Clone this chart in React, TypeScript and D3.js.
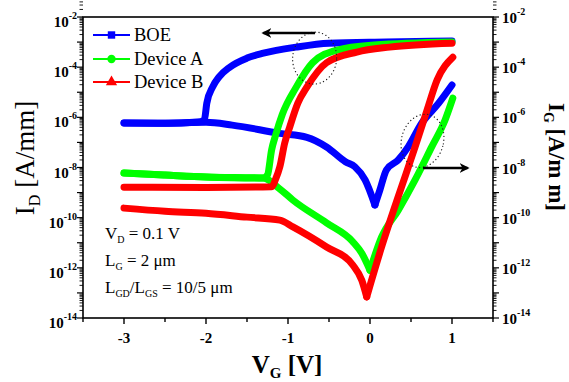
import * as d3 from "d3";

// gate voltage [V] vs current [A/mm]
const BOE_ID: [number, number][] = [
  [-3.0, 6.0e-7], [-2.5, 5.8e-7], [-2.1, 6.5e-7], [-2.02, 8e-7], [-1.99, 3.7e-6],
  [-1.92, 1.6e-5], [-1.84, 4.1e-5], [-1.71, 1.0e-4], [-1.5, 2.3e-4], [-1.3, 3.6e-4],
  [-0.9, 6.3e-4], [-0.5, 9.0e-4], [0.2, 1.0e-3], [1.0, 1.1e-3],
];
const BOE_IG: [number, number][] = [
  [-3.0, 6.0e-7], [-2.5, 5.8e-7], [-2.0, 6.3e-7], [-1.68, 4.9e-7], [-1.1, 2.3e-7],
  [-0.77, 1.6e-7], [-0.53, 6.6e-8], [-0.3, 1.7e-8], [-0.185, 1.07e-8], [-0.06, 3.2e-9],
  [0.06, 3.2e-10], [0.12, 1.26e-9], [0.2, 8e-9], [0.345, 2e-8], [0.468, 6.8e-8],
  [0.63, 5.8e-7], [0.835, 3.6e-6], [1.0, 1.95e-5],
];
const DEVA_ID: [number, number][] = [
  [-3.0, 6e-9], [-2.5, 5e-9], [-2.0, 4.2e-9], [-1.3, 3.8e-9], [-1.25, 5e-9],
  [-1.2, 5e-8], [-1.15, 2.0e-7], [-1.07, 1.3e-6], [-0.9, 1.6e-5], [-0.7, 1.5e-4],
  [-0.4, 4.8e-4], [0.05, 7.6e-4], [1.0, 1.0e-3],
];
const DEVA_IG: [number, number][] = [
  [-3.0, 6e-9], [-2.5, 5e-9], [-2.0, 4.2e-9], [-1.3, 3.8e-9], [-1.1, 1.4e-9],
  [-0.94, 5e-10], [-0.53, 6.2e-11], [-0.21, 1.1e-11], [-0.1, 3.8e-12], [0.0, 8e-13],
  [0.142, 1.7e-11], [0.345, 2e-10], [0.55, 3.2e-9], [0.754, 6.8e-8], [0.917, 8e-7],
  [1.01, 5.8e-6],
];
const DEVB_ID: [number, number][] = [
  [-3.0, 1.65e-9], [-2.0, 1.6e-9], [-1.2, 1.7e-9], [-1.15, 3.5e-9], [-1.1, 1.05e-8],
  [-1.04, 9.5e-8], [-0.98, 4e-7], [-0.88, 3.7e-6], [-0.77, 1.6e-5], [-0.53, 1.5e-4],
  [-0.16, 4e-4], [0.24, 6.3e-4], [1.0, 9e-4],
];
const DEVB_IG: [number, number][] = [
  [-3.0, 2.4e-10], [-2.5, 1.8e-10], [-2.0, 1.5e-10], [-1.5, 1.05e-10], [-1.1, 8e-11],
  [-0.94, 4.3e-11], [-0.53, 6.8e-12], [-0.21, 1.3e-12], [-0.1, 3.2e-13], [-0.04, 7e-14],
  [0.142, 6.9e-12], [0.342, 6.6e-10], [0.55, 6.6e-8], [0.696, 1.95e-6], [0.819, 3.1e-5],
  [1.01, 2.5e-4],
];

const SERIES = [
  { name: "BOE", color: "#0000ff", marker: "square", id: BOE_ID, ig: BOE_IG },
  { name: "Device A", color: "#00ff00", marker: "circle", id: DEVA_ID, ig: DEVA_IG },
  { name: "Device B", color: "#ff0000", marker: "triangle", id: DEVB_ID, ig: DEVB_IG },
];

const X_MAJOR = [-3, -2, -1, 0, 1];
const X_MINOR = [-3.5, -2.5, -1.5, -0.5, 0.5, 1.5];
const Y_LABEL_EXP = [-2, -4, -6, -8, -10, -12, -14];
const NOTES = [
  { main: "V", sub: "D", rest: " = 0.1 V" },
  { main: "L", sub: "G", rest: " = 2 μm" },
];

const W = 569;
const H = 382;
const M = { left: 83, right: 493, top: 17, bottom: 318 };
const FONT = "'Liberation Serif', 'Times New Roman', serif";

export default function App() {
  const x = d3.scaleLinear().domain([-3.5, 1.5]).range([M.left, M.right]);
  const y = d3.scaleLog().domain([1e-14, 1e-2]).range([M.bottom, M.top]);

  const line = d3
    .line<[number, number]>()
    .x((d) => x(d[0]))
    .y((d) => y(d[1]))
    .curve(d3.curveMonotoneX);

  // gate current has a sharp V at its minimum: draw the two branches separately
  const splitAtMin = (pts: [number, number][]) => {
    const i = d3.minIndex(pts, (d) => d[1]);
    return [pts.slice(0, i + 1), pts.slice(i)];
  };

  const decades = d3.range(-14, -1);
  const minors: number[] = [];
  decades.forEach((e) => {
    for (let k = 2; k <= 9; k++) minors.push(k * Math.pow(10, e));
  });
  const majors = decades.map((e) => Math.pow(10, e));

  const sym = (m: string) =>
    d3
      .symbol()
      .type(m === "square" ? d3.symbolSquare : m === "circle" ? d3.symbolCircle : d3.symbolTriangle)
      .size(55)();

  const legendY = [35, 59, 82];

  return (
    <svg
      width={W}
      height={H}
      style={{ position: "absolute", left: 0, top: 0, background: "#fff" }}
      fontFamily={FONT}
    >
      <defs>
        <clipPath id="plot">
          <rect x={M.left} y={M.top} width={M.right - M.left} height={M.bottom - M.top} />
        </clipPath>
        <marker id="ah" viewBox="0 0 10 10" refX="8" refY="5" markerWidth="4.2" markerHeight="4.2" orient="auto">
          <path d="M0,0 L10,5 L0,10 L3,5 Z" fill="#000" />
        </marker>
      </defs>

      {/* curves */}
      <g clipPath="url(#plot)" fill="none" strokeLinecap="round" strokeLinejoin="round">
        {SERIES.map((s) => (
          <g key={s.name} stroke={s.color} strokeWidth={7}>
            {splitAtMin(s.ig).map((part, k) => (
              <path key={k} d={line(part) ?? ""} />
            ))}
            <path d={line(s.id) ?? ""} />
          </g>
        ))}
      </g>

      {/* dotted ellipses and arrows */}
      <g fill="none" stroke="#222" strokeWidth={1.3} strokeDasharray="0.1 3.6" strokeLinecap="round">
        <ellipse cx={x(-0.675)} cy={y(2.3e-4)} rx={22} ry={26} transform={`rotate(5 ${x(-0.675)} ${y(2.3e-4)})`} />
        <ellipse cx={x(0.64)} cy={y(1.15e-7)} rx={21} ry={27} transform={`rotate(15 ${x(0.64)} ${y(1.15e-7)})`} />
      </g>
      <g stroke="#000" strokeWidth={2.4} markerEnd="url(#ah)">
        <line x1={x(-0.67)} y1={y(2.3e-3)} x2={x(-1.3)} y2={y(2.3e-3)} />
        <line x1={x(0.647)} y1={y(9.5e-9)} x2={x(1.19)} y2={y(9.5e-9)} />
      </g>

      {/* frame */}
      <rect x={M.left} y={M.top} width={M.right - M.left} height={M.bottom - M.top} fill="none" stroke="#000" strokeWidth={1.6} />

      {/* x axis */}
      <g stroke="#000" strokeWidth={1.4}>
        {X_MAJOR.map((v) => (
          <line key={v} x1={x(v)} x2={x(v)} y1={M.bottom} y2={M.bottom + 6} />
        ))}
        {X_MINOR.map((v) => (
          <line key={v} x1={x(v)} x2={x(v)} y1={M.bottom} y2={M.bottom + 4} />
        ))}
      </g>
      <g fontSize={15} fontWeight="bold" textAnchor="middle">
        {X_MAJOR.map((v) => (
          <text key={v} x={x(v)} y={343}>
            {v < 0 ? "-" + Math.abs(v) : v}
          </text>
        ))}
      </g>

      {/* y axes (left I_D, right I_G), outward ticks */}
      {[M.left, M.right].map((ax, side) => {
        const dir = side === 0 ? -1 : 1;
        return (
          <g key={ax} stroke="#000" strokeWidth={1.2}>
            {majors.map((v) => (
              <line key={v} x1={ax} x2={ax + dir * 6} y1={y(v)} y2={y(v)} />
            ))}
            {minors.map((v) => (
              <line key={v} x1={ax} x2={ax + dir * 3.5} y1={y(v)} y2={y(v)} strokeWidth={0.9} />
            ))}
          </g>
        );
      })}
      <g fontSize={15} fontWeight="bold">
        {Y_LABEL_EXP.map((e) => (
          <text key={"l" + e} x={77} y={y(Math.pow(10, e)) + 10} textAnchor="end">
            10
            <tspan fontSize={10} dy={-8}>
              {e}
            </tspan>
          </text>
        ))}
        {Y_LABEL_EXP.map((e) => (
          <text key={"r" + e} x={502} y={y(Math.pow(10, e)) + 6}>
            10
            <tspan fontSize={10} dy={-8}>
              {e}
            </tspan>
          </text>
        ))}
      </g>

      {/* axis titles */}
      <text transform="translate(34,158) rotate(-90)" textAnchor="middle" fontSize={27}>
        I<tspan fontSize={16} dy={6}>D</tspan>
        <tspan dy={-6}> [A/mm]</tspan>
      </text>
      <text transform="translate(549,157) rotate(90)" textAnchor="middle" fontSize={23} fontWeight="bold">
        I<tspan fontSize={14} dy={5}>G</tspan>
        <tspan dy={-5}> [A/m m]</tspan>
      </text>
      <text x={287} y={373} textAnchor="middle" fontSize={25} fontWeight="bold">
        V<tspan fontSize={15} dy={5}>G</tspan>
        <tspan dy={-5}> [V]</tspan>
      </text>

      {/* legend */}
      {SERIES.map((s, i) => (
        <g key={s.name}>
          <line x1={93} x2={130} y1={legendY[i]} y2={legendY[i]} stroke={s.color} strokeWidth={2} />
          <path d={sym(s.marker) ?? ""} transform={`translate(111.5,${legendY[i]})`} fill={s.color} />
          <text x={134} y={legendY[i] + 6} fontSize={18.5}>
            {s.name}
          </text>
        </g>
      ))}

      {/* conditions */}
      <g fontSize={17}>
        {NOTES.map((n, i) => (
          <text key={n.main + n.sub} x={105} y={239 + i * 27}>
            {n.main}
            <tspan fontSize={10} dy={4}>
              {n.sub}
            </tspan>
            <tspan dy={-4}>{n.rest}</tspan>
          </text>
        ))}
        <text x={105} y={293}>
          L<tspan fontSize={10} dy={4}>GD</tspan>
          <tspan dy={-4}>/L</tspan>
          <tspan fontSize={10} dy={4}>GS</tspan>
          <tspan dy={-4}>{" = 10/5 μm"}</tspan>
        </text>
      </g>
    </svg>
  );
}
